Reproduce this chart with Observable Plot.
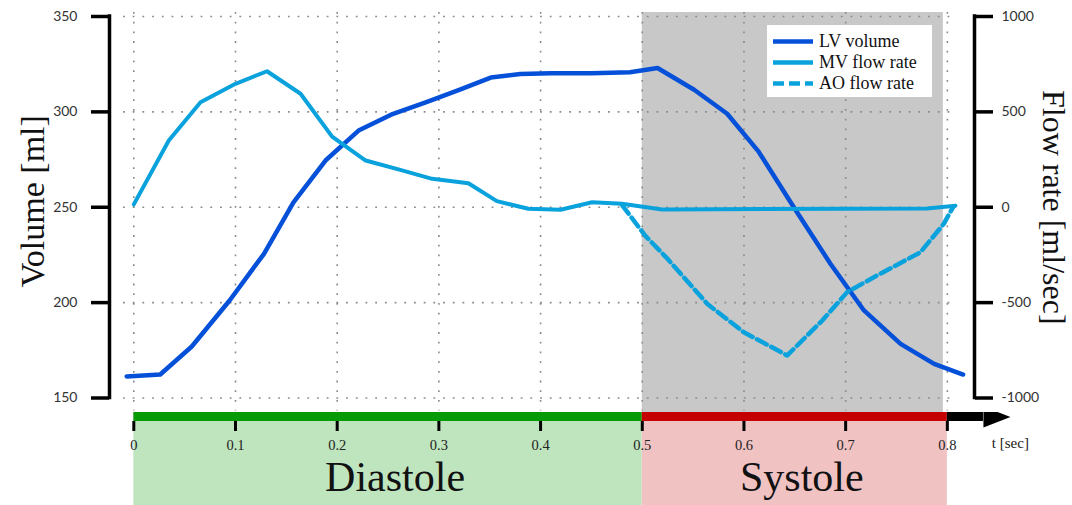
<!DOCTYPE html>
<html>
<head>
<meta charset="utf-8">
<script src="https://cdn.jsdelivr.net/npm/d3@7"></script>
<script src="https://cdn.jsdelivr.net/npm/@observablehq/plot@0.6"></script>
<style>
  html, body { margin: 0; padding: 0; background: #fff; }
  #wrap { position: relative; width: 1072px; height: 505px; overflow: hidden; }
  #wrap svg { display: block; }
  #legend { position: absolute; left: 767px; top: 25px; width: 165px; height: 72px; background: #fff;
            font-family: "Liberation Serif", serif; font-size: 18px; color: #111; }
  #legend .row { position: absolute; left: 0; height: 21px; width: 165px; }
  #legend svg { position: absolute; left: 6px; top: 0; }
  #legend span { position: absolute; left: 52px; top: 0; line-height: 21px; white-space: nowrap; }
</style>
</head>
<body>
<div id="wrap"></div>
<script>
// ---- data ----
const lvTime   = [-0.007, 0.026, 0.057, 0.094, 0.128, 0.157, 0.1885, 0.221, 0.253, 0.287, 0.320, 0.351, 0.380, 0.410, 0.450, 0.488, 0.515, 0.551, 0.5835, 0.6146, 0.649, 0.685, 0.718, 0.754, 0.787, 0.8155];
const lvVolume = [161.3, 162.3, 177, 201, 225.6, 252.6, 274.5, 290.2, 298.5, 305, 311.5, 318, 319.8, 320.3, 320.3, 320.8, 323, 311.6, 299, 279, 250, 220.4, 195.9, 178.4, 167.9, 162.3];

const mvTime = [0, 0.0344, 0.0656, 0.1, 0.131, 0.164, 0.195, 0.228, 0.262, 0.2934, 0.329, 0.357, 0.388, 0.4196, 0.4507, 0.48, 0.5195, 0.78, 0.808];
const mvFlow = [15, 350, 550, 647, 713, 595, 370, 245, 196, 149, 126, 32, -8, -13, 26, 18, -12, -6, 8];

const aoTime = [0.48, 0.503, 0.523, 0.5638, 0.5998, 0.6425, 0.677, 0.7015, 0.7277, 0.7735, 0.7965, 0.806];
const aoFlow = [12, -150, -260, -506, -655, -777, -594, -445, -367, -236, -87, 5];

const phaseNames = ["Diastole", "Systole"];
const phaseStart = [0, 0.5];
const phaseEnd   = [0.5, 0.8];
const phaseDark  = ["#069a06", "#c40000"];
const phaseLight = ["#bfe5bf", "#f0c2c2"];

const xTicks = [0, 0.1, 0.2, 0.3, 0.4, 0.5, 0.6, 0.7, 0.8];
const volumeTicks = [150, 200, 250, 300, 350];
const flowTicks = [-1000, -500, 0, 500, 1000];
const timeLabel = "t [sec]";

const lvColor = "#0550d8";
const flowColor = "#0aa2dc";

// ---- tables ----
const lv = lvTime.map((t, i) => ({t, v: lvVolume[i]}));
const mv = mvTime.map((t, i) => ({t, f: mvFlow[i]}));
const ao = aoTime.map((t, i) => ({t, f: aoFlow[i]}));
const phases = phaseNames.map((name, i) => ({name, start: phaseStart[i], end: phaseEnd[i], dark: phaseDark[i], light: phaseLight[i]}));
const systole = phases.filter(d => d.name === "Systole");

// flow axis shares the volume scale: flow 1000 <-> 350 ml, -1000 <-> 150 ml
const flowToVol = f => 250 + f / 10;
const volToFlow = v => (v - 250) * 10;

const xDomain = [-0.0239, 0.8267];
const W = 1072, mL = 109, mR = 98;
const serif = "Liberation Serif";
const sans = "Lato";
const grid = {stroke: "#8a8a8a", strokeWidth: 1.6, strokeDasharray: "1.8,7.9", strokeOpacity: 1};

const main = Plot.plot({
  width: W, height: 412,
  marginTop: 16, marginBottom: 14.5, marginLeft: mL, marginRight: mR,
  x: {domain: xDomain, axis: null},
  y: {domain: [150, 350], axis: null},
  marks: [
    Plot.barX(systole, {x1: "start", x2: "end", fill: "#c8c8c8", insetTop: -4, insetBottom: -14.5, insetRight: 4}),
    Plot.ruleX(xTicks, {...grid, insetTop: -4, insetBottom: -13}),
    Plot.ruleY(volumeTicks, {...grid, insetLeft: 14, insetRight: 24}),
    Plot.ruleX([xDomain[0]], {stroke: "#000", strokeWidth: 3.5, insetTop: -1.75, insetBottom: -1.75}),
    Plot.ruleX([xDomain[1]], {stroke: "#000", strokeWidth: 3.5, insetTop: -1.75, insetBottom: -1.75}),
    Plot.axisY(volumeTicks, {anchor: "left", tickSize: 18, tickPadding: 14, stroke: "#000", strokeWidth: 3.5,
      fontSize: 14, fontFamily: sans, fill: "#333", label: null}),
    Plot.axisY(flowTicks.map(flowToVol), {anchor: "right", tickSize: 18, tickPadding: 9, stroke: "#000", strokeWidth: 3.5,
      fontSize: 14, fontFamily: sans, fill: "#333", label: null, tickFormat: v => String(volToFlow(v))}),
    Plot.line(lv, {x: "t", y: "v", stroke: lvColor, strokeWidth: 4.5}),
    Plot.line(mv, {x: "t", y: d => flowToVol(d.f), stroke: flowColor, strokeWidth: 4}),
    Plot.line(ao, {x: "t", y: d => flowToVol(d.f), stroke: flowColor, strokeWidth: 4.5, strokeDasharray: "11,5"}),
    Plot.text(["Volume [ml]"], {frameAnchor: "left", textAnchor: "middle", rotate: -90, dx: -76, dy: -6, fontSize: 34, fontFamily: serif, fill: "#111"}),
    Plot.text(["Flow rate [ml/sec]"], {frameAnchor: "right", textAnchor: "middle", rotate: 90, dx: 79, fontSize: 32, fontFamily: serif, fill: "#111"})
  ]
});

const arrowHead = {
  draw(ctx) { ctx.moveTo(0, -10.5); ctx.lineTo(27, 0); ctx.lineTo(0, 10.5); ctx.closePath(); }
};
const arrowBase = 0.8355;

const bottom = Plot.plot({
  width: W, height: 93,
  marginTop: 0, marginBottom: 84, marginLeft: mL, marginRight: mR,
  x: {domain: xDomain},
  marks: [
    Plot.barX(phases, {x1: "start", x2: "end", fill: "light", insetTop: 9, insetBottom: -84}),
    Plot.barX(phases, {x1: "start", x2: "end", fill: "dark"}),
    Plot.barX([{start: 0.8, end: arrowBase}], {x1: "start", x2: "end", fill: "#000"}),
    Plot.dot([arrowBase], {x: d => d, symbol: arrowHead, fill: "#000", stroke: null, r: 8}),
    Plot.axisX(xTicks, {anchor: "bottom", tickSize: 10, tickPadding: 8, stroke: "#000", strokeWidth: 3,
      fontSize: 14.5, fontFamily: serif, fill: "#222", label: null,
      tickFormat: d => d === 0 ? "0" : d.toFixed(1)}),
    Plot.text([timeLabel], {x: () => 0.862, fontSize: 15, fontFamily: serif, fill: "#222", dy: 26.5}),
    Plot.text(phases, {x: d => (d.start + d.end) / 2, text: "name", fontSize: 42, fontFamily: serif, fill: "#111", dx: 7, dy: 61})
  ]
});

const wrap = document.getElementById("wrap");
wrap.appendChild(main);
wrap.appendChild(bottom);

// legend
const legendItems = [
  {label: "LV volume", color: lvColor, dash: null},
  {label: "MV flow rate", color: flowColor, dash: null},
  {label: "AO flow rate", color: flowColor, dash: "11,5"}
];
const lg = document.createElement("div");
lg.id = "legend";
legendItems.forEach((it, i) => {
  const row = document.createElement("div");
  row.className = "row";
  row.style.top = (5.5 + 21 * i) + "px";
  row.innerHTML = `<svg width="42" height="21"><line x1="0" x2="40" y1="10.5" y2="10.5" stroke="${it.color}" stroke-width="4.5" ${it.dash ? `stroke-dasharray="${it.dash}"` : ""}/></svg><span>${it.label}</span>`;
  lg.appendChild(row);
});
wrap.appendChild(lg);
</script>
</body>
</html>
